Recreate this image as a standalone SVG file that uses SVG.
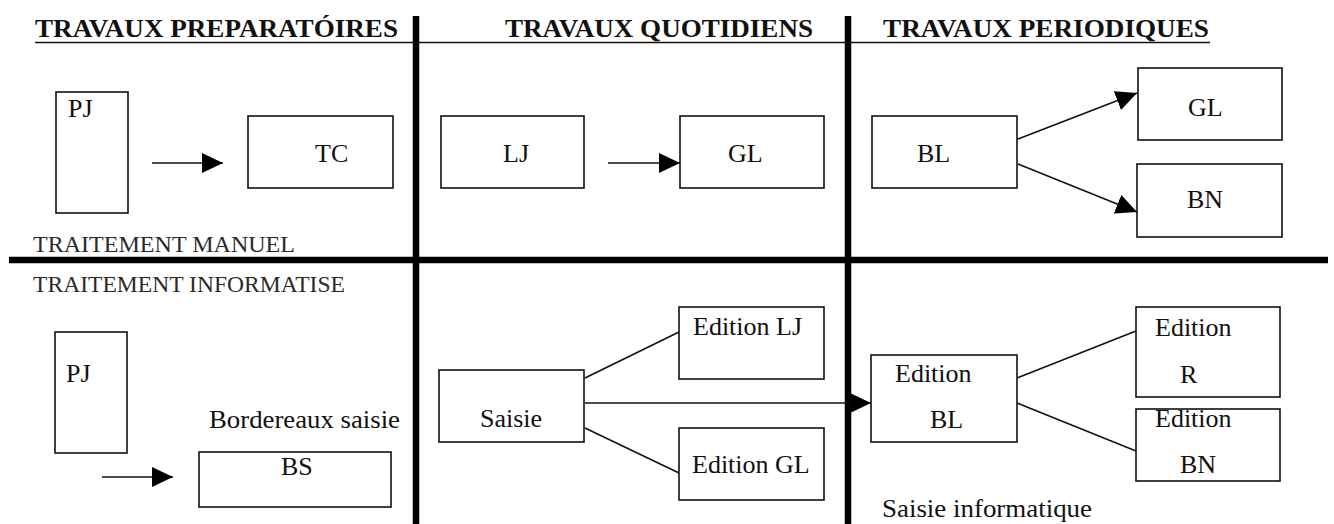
<svg xmlns="http://www.w3.org/2000/svg" width="1334" height="524" viewBox="0 0 1334 524">
  <style>
    .title { font-family: "Liberation Serif", "Times New Roman", serif; font-weight: bold; font-size: 26px; fill: #111; }
    .band  { font-family: "Liberation Serif", "Times New Roman", serif; font-size: 23.5px; fill: #2a2a2a; }
    .lbl   { font-family: "Liberation Serif", "Times New Roman", serif; font-size: 26px; fill: #111; }
    .box   { fill: #fff; stroke: #111; stroke-width: 1.6; }
    .conn  { fill: none; stroke: #111; stroke-width: 1.6; }
    .arrow { marker-end: url(#head); }
    .bar   { stroke: #000; stroke-width: 6.5; }
  </style>
  <defs>
    <marker id="head" markerUnits="userSpaceOnUse" markerWidth="22" markerHeight="20" refX="21" refY="10" orient="auto">
      <path d="M0,0 L21,10 L0,20 Z" fill="#000"/>
    </marker>
  </defs>

  <rect width="1334" height="524" fill="#fff"/>

  <!-- column headings and grid -->
  <g id="grid">
    <text class="title" x="35" y="37" textLength="363" lengthAdjust="spacingAndGlyphs">TRAVAUX PREPARATÓIRES</text>
    <text class="title" x="505" y="37" textLength="308" lengthAdjust="spacingAndGlyphs">TRAVAUX QUOTIDIENS</text>
    <text class="title" x="883" y="37" textLength="326" lengthAdjust="spacingAndGlyphs">TRAVAUX PERIODIQUES</text>
    <line x1="35" y1="42.5" x2="1210" y2="42.5" stroke="#111" stroke-width="1.6"/>
    <line class="bar" x1="416" y1="16" x2="416" y2="524"/>
    <line class="bar" x1="848" y1="16" x2="848" y2="524"/>
    <line x1="9" y1="260" x2="1328" y2="260" stroke="#000" stroke-width="6.5"/>
    <text class="band" x="33" y="252" textLength="262" lengthAdjust="spacingAndGlyphs">TRAITEMENT MANUEL</text>
    <text class="band" x="33" y="292" textLength="312" lengthAdjust="spacingAndGlyphs">TRAITEMENT INFORMATISE</text>
  </g>

  <!-- manual processing -->
  <g id="pj-manuel">
    <rect class="box" x="56" y="92" width="72" height="121"/>
    <text class="lbl" x="68" y="117">PJ</text>
  </g>
  <g id="tc">
    <rect class="box" x="248" y="116" width="145" height="72"/>
    <text class="lbl" x="315" y="162">TC</text>
  </g>
  <g id="lj">
    <rect class="box" x="441" y="116" width="143" height="72"/>
    <text class="lbl" x="503" y="162">LJ</text>
  </g>
  <g id="gl-quotidien">
    <rect class="box" x="680" y="116" width="144" height="72"/>
    <text class="lbl" x="728" y="162">GL</text>
  </g>
  <g id="bl">
    <rect class="box" x="872" y="116" width="145" height="72"/>
    <text class="lbl" x="917" y="162">BL</text>
  </g>
  <g id="gl-periodique">
    <rect class="box" x="1138" y="68" width="144" height="72"/>
    <text class="lbl" x="1188" y="116">GL</text>
  </g>
  <g id="bn">
    <rect class="box" x="1137" y="164" width="145" height="73"/>
    <text class="lbl" x="1187" y="208">BN</text>
  </g>

  <!-- computerised processing -->
  <g id="pj-info">
    <rect class="box" x="55" y="332" width="72" height="121"/>
    <text class="lbl" x="66" y="382">PJ</text>
  </g>
  <g id="bs">
    <text class="lbl" x="209" y="428" textLength="191" lengthAdjust="spacingAndGlyphs">Bordereaux saisie</text>
    <rect class="box" x="199" y="452" width="192" height="55"/>
    <text class="lbl" x="281" y="475">BS</text>
  </g>
  <g id="saisie">
    <rect class="box" x="439" y="370" width="145" height="72"/>
    <text class="lbl" x="480" y="427">Saisie</text>
  </g>
  <g id="edition-lj">
    <rect class="box" x="679" y="307" width="145" height="72"/>
    <text class="lbl" x="693" y="335">Edition LJ</text>
  </g>
  <g id="edition-gl">
    <rect class="box" x="679" y="428" width="145" height="72"/>
    <text class="lbl" x="692" y="473">Edition GL</text>
  </g>
  <g id="edition-bl">
    <rect class="box" x="871" y="355" width="146" height="87"/>
    <text class="lbl" x="895" y="382">Edition</text>
    <text class="lbl" x="930" y="428">BL</text>
  </g>
  <g id="edition-r">
    <rect class="box" x="1136" y="307" width="144" height="90"/>
    <text class="lbl" x="1155" y="336">Edition</text>
    <text class="lbl" x="1180" y="383">R</text>
  </g>
  <g id="edition-bn">
    <rect class="box" x="1136" y="409" width="144" height="72"/>
    <text class="lbl" x="1155" y="427">Edition</text>
    <text class="lbl" x="1180" y="473">BN</text>
  </g>
  <g id="saisie-informatique">
    <text class="lbl" x="882" y="517" textLength="210" lengthAdjust="spacingAndGlyphs">Saisie informatique</text>
  </g>

  <!-- connectors -->
  <g id="connectors">
    <line class="conn arrow" x1="152" y1="163" x2="223" y2="163"/>
    <line class="conn arrow" x1="608" y1="163" x2="680" y2="163"/>
    <line class="conn arrow" x1="1018" y1="139" x2="1137" y2="93"/>
    <line class="conn arrow" x1="1018" y1="164" x2="1137" y2="212"/>
    <line class="conn arrow" x1="102" y1="477" x2="173" y2="477"/>
    <line class="conn" x1="585" y1="378" x2="679" y2="332"/>
    <line class="conn" x1="585" y1="428" x2="679" y2="473"/>
    <line class="conn arrow" x1="585" y1="403" x2="871" y2="403"/>
    <line class="conn" x1="1017" y1="378" x2="1136" y2="331"/>
    <line class="conn" x1="1017" y1="403" x2="1136" y2="451"/>
  </g>
</svg>
